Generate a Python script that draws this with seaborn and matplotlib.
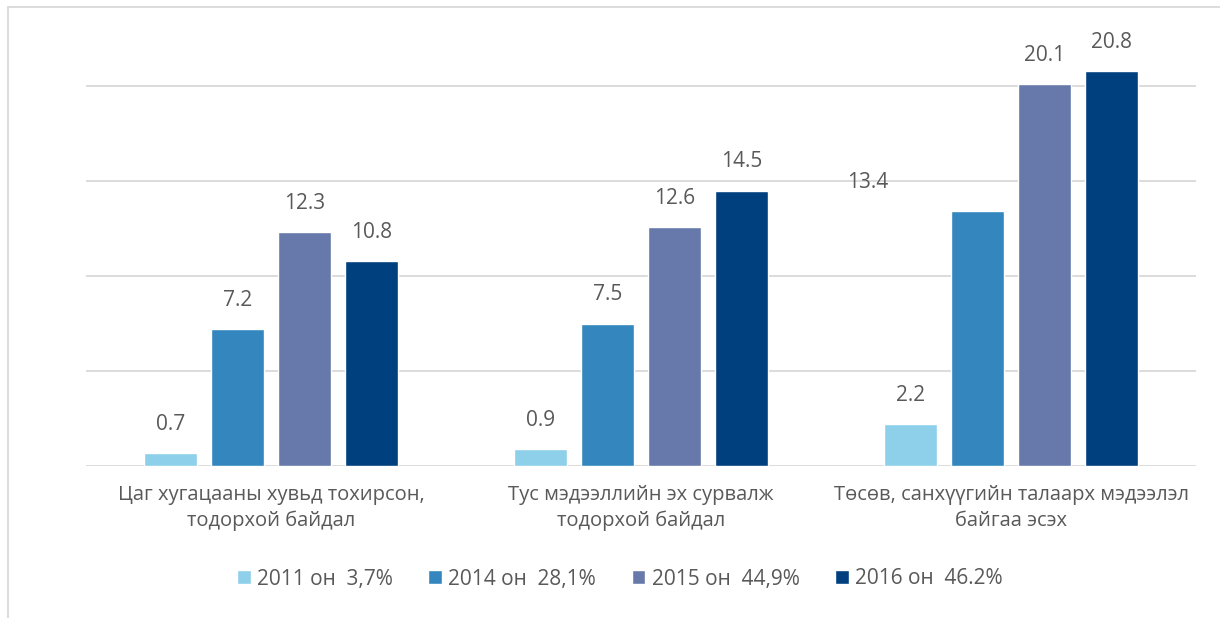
import pandas as pd
import matplotlib.pyplot as plt
import seaborn as sns
from matplotlib.patches import Rectangle

categories = [
    'Цаг хугацааны хувьд тохирсон,\nтодорхой байдал',
    'Тус мэдээллийн эх сурвалж\nтодорхой байдал',
    'Төсөв, санхүүгийн талаарх мэдээлэл\nбайгаа эсэх',
]
series = ['2011 он  3,7%', '2014 он  28,1%', '2015 он  44,9%', '2016 он  46.2%']
v2011 = [0.7, 0.9, 2.2]
v2014 = [7.2, 7.5, 13.4]
v2015 = [12.3, 12.6, 20.1]
v2016 = [10.8, 14.5, 20.8]
colors = ['#8ECFEA', '#3387BE', '#6679AA', '#00407F']

rows = []
for name, vals in zip(series, [v2011, v2014, v2015, v2016]):
    for cat, v in zip(categories, vals):
        rows.append({'cat': cat, 'series': name, 'value': v})
df = pd.DataFrame(rows)

sns.set_style('white')
plt.rcParams['font.family'] = ['Open Sans', 'DejaVu Sans']
text_col = '#595959'

fig = plt.figure(figsize=(12.2, 6.18), dpi=100)
ax = fig.add_axes([86 / 1220, 1 - 466 / 618, 1110 / 1220, 456 / 618])

sns.barplot(data=df, x='cat', y='value', hue='series', palette=colors,
            width=0.724, gap=0.21, ax=ax, saturation=1, legend=True)

ax.set_xlim(-0.5, 2.5)
ax.set_ylim(0, 24)
ax.set_yticks([0, 5, 10, 15, 20])
ax.yaxis.grid(True, color='#D9D9D9', linewidth=1.3)
ax.set_axisbelow(True)
ax.tick_params(axis='y', left=False, labelleft=False)
ax.tick_params(axis='x', bottom=False, labelsize=14.5, labelcolor=text_col, pad=10)
for lbl in ax.get_xticklabels():
    lbl.set_linespacing(1.4)
for s in ax.spines.values():
    s.set_visible(False)
ax.set_xlabel('')
ax.set_ylabel('')

# value labels; the 2014 label in the last group sits off to the left in the original
for i, cont in enumerate(ax.containers):
    for j, bar in enumerate(cont):
        dx = -110 if (i == 1 and j == 2) else 0
        ax.annotate(f'{bar.get_height():.1f}',
                    (bar.get_x() + bar.get_width() / 2, bar.get_height()),
                    xytext=(dx * 0.72, 13), textcoords='offset points',
                    ha='center', va='bottom', fontsize=15, color=text_col)

handles, labels = ax.get_legend_handles_labels()
ax.get_legend().remove()
fig.legend(handles, labels, loc='center', bbox_to_anchor=(0.508, 1 - 579 / 618),
           ncol=4, frameon=False, fontsize=15, labelcolor=text_col,
           handlelength=0.67, handleheight=0.67, handletextpad=0.3, columnspacing=1.7)

fig.patches.append(Rectangle((8 / 1220, -0.05), 1.1, 1 - 7 / 618 + 0.05,
                             transform=fig.transFigure, fill=False,
                             edgecolor='#D9D9D9', linewidth=1.3))

plt.savefig('out.png', dpi=100)
